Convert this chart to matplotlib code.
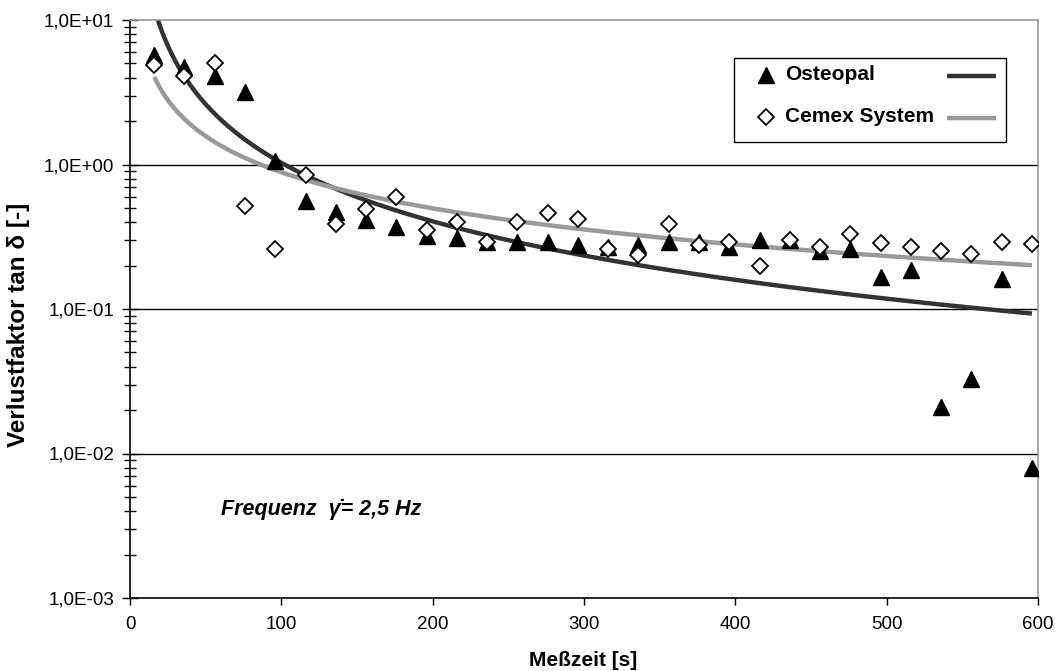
import numpy as np
import matplotlib
matplotlib.use("Agg")
import matplotlib.pyplot as plt
from matplotlib.ticker import FixedLocator, LogLocator, FuncFormatter, NullFormatter
from matplotlib.lines import Line2D
from matplotlib.patches import Rectangle

plt.rcParams['font.family'] = ['Liberation Sans', 'DejaVu Sans']

# Measurement times [s]
zeit = [16, 36, 56, 76, 96, 116, 136, 156, 176, 196, 216, 236, 256, 276, 296,
        316, 336, 356, 376, 396, 416, 436, 456, 476, 496, 516, 536, 556, 576, 596]

# Loss factor tan delta, Osteopal
osteopal = [5.7, 4.7, 4.1, 3.2, 1.05, 0.56, 0.47, 0.41, 0.37, 0.32, 0.31, 0.29, 0.29, 0.29, 0.276,
            0.27, 0.276, 0.29, 0.29, 0.27, 0.30, 0.30, 0.25, 0.26, 0.166, 0.186, 0.021, 0.033, 0.161, 0.008]

# Loss factor tan delta, Cemex System
cemex = [4.9, 4.1, 5.05, 0.52, 0.26, 0.84, 0.39, 0.49, 0.60, 0.35, 0.40, 0.29, 0.40, 0.46, 0.42,
         0.26, 0.235, 0.385, 0.276, 0.29, 0.198, 0.30, 0.27, 0.33, 0.285, 0.27, 0.25, 0.24, 0.29, 0.28]

labels = ["Osteopal", "Cemex System"]
x_ticks = [0, 100, 200, 300, 400, 500, 600]

W, H = 1055, 671
fig = plt.figure(figsize=(W / 100, H / 100), dpi=100)
ax = fig.add_axes([130 / W, 1 - 598 / H, (1038 - 130) / W, (598 - 20) / H])


def fx(px):
    return px / W


def fy(py):
    return 1 - py / H


x = np.array(zeit, dtype=float)


# power-law trendlines (least squares on log-log, as Excel does)
def power_fit(xv, yv):
    b, lna = np.polyfit(np.log(xv), np.log(yv), 1)
    return np.exp(lna), b


xs = np.linspace(x.min(), x.max(), 300)
a1, b1 = power_fit(x, np.array(osteopal))
a2, b2 = power_fit(x, np.array(cemex))

c_ost = '#333333'
c_cem = '#999999'
ax.plot(xs, a1 * xs**b1, color=c_ost, lw=3.2, zorder=2, solid_capstyle='butt')
ax.plot(xs, a2 * xs**b2, color=c_cem, lw=3.2, zorder=2, solid_capstyle='butt')

tri_kw = dict(linestyle='none', marker='^', markersize=11, color='black', markeredgecolor='black')
dia_kw = dict(linestyle='none', marker='D', markersize=8, markerfacecolor='white',
              markeredgecolor='black', markeredgewidth=1.3)
ax.plot(x, osteopal, zorder=4, **tri_kw)
ax.plot(x, cemex, zorder=5, **dia_kw)

ax.set_yscale('log')
ax.set_ylim(1e-3, 1e1)
ax.set_xlim(0, 600)

ax.xaxis.set_major_locator(FixedLocator(x_ticks))
ax.yaxis.set_major_locator(LogLocator(base=10, numticks=10))
ax.yaxis.set_minor_locator(LogLocator(base=10, subs=np.arange(2, 10), numticks=20))
ax.yaxis.set_minor_formatter(NullFormatter())
ax.yaxis.set_major_formatter(FuncFormatter(lambda v, p: f"{v:.1E}".replace('.', ',')))

for yv in [1e-2, 1e-1, 1e0]:
    ax.axhline(yv, color='black', lw=1.0, zorder=1)

ax.tick_params(axis='y', which='major', direction='inout', length=11, width=1, labelsize=13.5, pad=6)
ax.tick_params(axis='y', which='minor', direction='inout', length=8, width=1)
ax.tick_params(axis='x', which='major', direction='out', length=5, width=1, labelsize=13.5, pad=8)

for side in ['left', 'bottom']:
    ax.spines[side].set_color('black')
    ax.spines[side].set_linewidth(1.2)
for side in ['top', 'right']:
    ax.spines[side].set_color('#999999')
    ax.spines[side].set_linewidth(1.2)

fig.text(fx(583), fy(661), "Meßzeit [s]", fontsize=15, fontweight='bold', ha='center', va='center')
fig.text(fx(19), fy(325), "Verlustfaktor tan δ [-]", fontsize=17.5, fontweight='bold',
         rotation=90, ha='center', va='center')

ax.text(60, 4.1e-3, "Frequenz  γ\u0307= 2,5 Hz", fontsize=15.5, fontweight='bold',
        fontstyle='italic', va='center', ha='left')

# Legend (Excel style: marker, label, trendline sample on the right)
fig.patches.append(Rectangle((fx(734), fy(142)), fx(1006) - fx(734), fy(58) - fy(142),
                             transform=fig.transFigure, facecolor='white', edgecolor='black',
                             lw=1.0, zorder=10))
rows = [(75, tri_kw, c_ost, labels[0]), (117, dia_kw, c_cem, labels[1])]
for py, mkw, lc, lab in rows:
    fig.add_artist(Line2D([fx(766)], [fy(py)], transform=fig.transFigure, zorder=11, **mkw))
    fig.text(fx(785), fy(py), lab, fontsize=15, fontweight='bold', ha='left', va='center', zorder=11)
    fig.add_artist(Line2D([fx(947), fx(996)], [fy(py + 1), fy(py + 1)], transform=fig.transFigure,
                          color=lc, lw=3.2, solid_capstyle='butt', zorder=11))

fig.savefig("out.png", dpi=100)
